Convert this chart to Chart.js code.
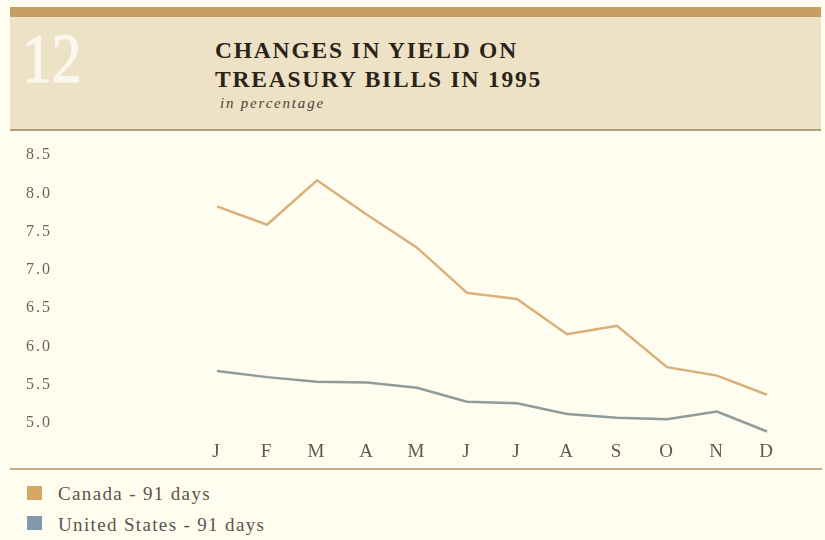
<!DOCTYPE html>
<html>
<head>
<meta charset="utf-8">
<script src="https://cdn.jsdelivr.net/npm/chart.js@4"></script>
<style>
html,body{margin:0;padding:0;width:825px;height:540px;background:#fffdf0;overflow:hidden;font-family:"Liberation Serif","Times New Roman",serif;}
#hdr{position:absolute;left:10px;top:7px;width:811px;height:124px;background:#eee2c6;}
#bar{position:absolute;left:0;top:0;width:100%;height:10px;background:#c89e62;}
#hline{position:absolute;left:0;bottom:0;width:100%;height:2px;background:#b6a07e;}
#num{position:absolute;left:12px;top:17px;font-size:70px;line-height:1;color:#fcf8ef;-webkit-text-stroke:1.2px #fcf8ef;transform:scaleX(0.85);transform-origin:left top;}
#title{position:absolute;left:205px;top:29px;font-size:23.5px;line-height:29px;font-weight:bold;letter-spacing:1.8px;color:#2a2418;white-space:nowrap;}
#sub{position:absolute;left:210px;top:88px;font-size:15px;font-style:italic;letter-spacing:1.8px;color:#4a4236;white-space:nowrap;}
#rule{position:absolute;left:10px;top:468px;width:812px;height:2px;background:#cbb086;}
#wrap{position:absolute;left:0;top:131px;width:825px;height:337px;}
.sw{position:absolute;left:27px;width:15px;height:14px;}
.lt{position:absolute;left:58px;font-size:19px;line-height:1;letter-spacing:1.35px;color:#5a554b;white-space:nowrap;}
</style>
</head>
<body>
<div id="hdr">
  <div id="bar"></div>
  <div id="num">12</div>
  <div id="title">CHANGES IN YIELD ON<br>TREASURY BILLS IN 1995</div>
  <div id="sub">in percentage</div>
  <div id="hline"></div>
</div>
<div id="wrap"><canvas id="c" width="825" height="337"></canvas></div>
<div id="rule"></div>
<div class="sw" style="top:486px;background:#d6a666;"></div>
<div class="lt" id="l1" style="top:484px;"></div>
<div class="sw" style="top:516px;background:#7f9bab;"></div>
<div class="lt" id="l2" style="top:515px;"></div>
<script>
const months = ['J','F','M','A','M','J','J','A','S','O','N','D'];
const canada = [7.83, 7.59, 8.17, 7.72, 7.29, 6.70, 6.62, 6.16, 6.27, 5.73, 5.62, 5.37];
const unitedStates = [5.68, 5.60, 5.54, 5.53, 5.46, 5.28, 5.26, 5.12, 5.07, 5.05, 5.15, 4.89];
const yTicks = [5.0, 5.5, 6.0, 6.5, 7.0, 7.5, 8.0, 8.5];
const seriesNames = ['Canada - 91 days', 'United States - 91 days'];

document.getElementById('l1').textContent = seriesNames[0];
document.getElementById('l2').textContent = seriesNames[1];

const spacing = {
  id: 'spacing',
  beforeDraw(chart){ chart.ctx.letterSpacing = '2px'; },
  afterDraw(chart){ chart.ctx.letterSpacing = '0px'; }
};

new Chart(document.getElementById('c'), {
  type: 'line',
  data: {
    labels: months,
    datasets: [
      {label: seriesNames[0], data: canada, borderColor: '#dab07a', borderWidth: 2.5, pointRadius: 0, tension: 0, fill: false},
      {label: seriesNames[1], data: unitedStates, borderColor: '#8e9c9c', borderWidth: 2.5, pointRadius: 0, tension: 0, fill: false}
    ]
  },
  options: {
    responsive: false,
    animation: false,
    events: [],
    layout: {padding: {left: 26, right: 58, top: 24, bottom: 0}},
    plugins: {legend: {display: false}, tooltip: {enabled: false}},
    scales: {
      x: {
        offset: false,
        grid: {display: false, drawTicks: false},
        border: {display: false},
        ticks: {color: '#5e594f', padding: 2.6, font: {family: 'Liberation Serif', size: 19, lineHeight: 1.2}, maxRotation: 0, autoSkip: false},
        afterFit(scale){ scale.height = 29.6; }
      },
      y: {
        min: 4.8, max: 8.5,
        grid: {display: false, drawTicks: false},
        border: {display: false},
        afterBuildTicks(scale){ scale.ticks = yTicks.map(v => ({value: v})); },
        ticks: {color: '#6a655a', crossAlign: 'far', padding: 0,
          font: {family: 'Liberation Serif', size: 16},
          callback: v => Number(v).toFixed(1)},
        afterFit(scale){ scale.width = 191; }
      }
    }
  },
  plugins: [spacing]
});
</script>
</body>
</html>
